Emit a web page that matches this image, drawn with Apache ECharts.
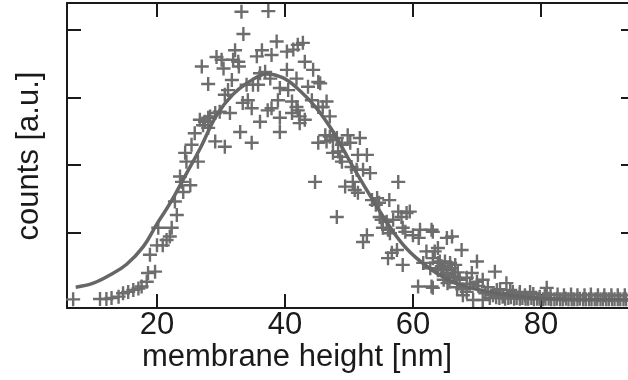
<!DOCTYPE html>
<html>
<head>
<meta charset="utf-8">
<script src="https://cdn.jsdelivr.net/npm/echarts@6/dist/echarts.min.js"></script>
<style>
  html, body { margin: 0; padding: 0; background: #fff; }
  #chart { width: 628px; height: 380px; }
</style>
</head>
<body>
<div id="chart"></div>
<script>
// Measured counts per membrane height, grouped by region of the distribution: [height nm, counts]
const risePoints = [
  [6.9,0.01],[11.1,0.015],[12.1,0.015],[12.9,0.03],[14.0,0.05],[14.7,0.10],[15.5,0.12],
  [16.3,0.15],[17.1,0.17],[17.6,0.20],[18.4,0.27],[18.6,0.40],[19.7,0.42],[18.9,0.67],
  [20.0,0.81],[20.9,0.81],[20.2,1.07],[22.3,1.07],[22.0,0.94],[21.5,0.89],[22.8,1.46],
  [23.1,1.26],[23.6,1.83],[23.9,1.75],[24.1,1.60],[25.2,1.70],[24.4,2.18],[24.6,2.05],
  [26.4,2.05],[25.4,2.30],[25.9,2.47],[28.0,2.55],[26.7,2.67],[27.5,2.64],[27.2,2.59],
  [28.3,2.72],[29.1,2.77],[29.8,2.79],[29.1,2.35],[30.6,2.27],[28.0,2.70],[31.4,2.77],
  [33.0,2.49],[34.8,2.33]
];
const peakPoints = [
  [33.2,4.27],[37.4,4.28],[33.5,3.94],[38.7,3.83],[42.0,3.78],[42.8,3.81],[32.2,3.70],
  [35.6,3.61],[36.4,3.70],[37.9,3.63],[40.3,3.68],[41.3,3.71],[29.3,3.60],[30.1,3.56],
  [31.9,3.56],[32.7,3.53],[27.0,3.46],[30.4,3.43],[32.8,3.46],[43.1,3.53],[44.4,3.41],
  [40.3,3.41],[36.1,3.36],[36.9,3.38],[37.7,3.28],[28.0,3.20],[31.7,3.26],[41.8,3.28],
  [43.6,3.16],[45.2,3.23],[45.5,3.21],[31.1,3.11],[30.6,3.04],[34.0,3.19],[35.0,3.19],
  [35.8,3.19],[39.2,3.14],[40.5,3.11],[38.9,2.96],[37.9,2.84],[37.3,2.81],[34.2,2.96],
  [33.4,2.92],[34.8,2.84],[41.1,2.94],[41.8,2.86],[42.0,2.81],[44.2,2.96],[45.2,2.86],
  [45.9,2.86],[46.5,2.94],[42.3,2.72],[43.1,2.67],[42.3,2.62],[41.1,2.77],[39.2,2.70],
  [36.1,2.64],[47.0,2.72],[39.2,2.49]
];
const fallPoints = [
  [46.3,2.44],[47.0,2.42],[47.5,2.37],[45.2,2.33],[46.5,2.35],[49.8,2.44],[51.7,2.40],
  [48.9,2.30],[50.2,2.33],[48.1,2.40],[47.5,2.18],[48.3,2.20],[48.6,2.12],[48.9,2.05],
  [51.4,2.15],[52.8,2.15],[50.4,1.97],[51.2,1.93],[52.2,1.93],[53.3,1.88],[44.7,1.75],
  [50.6,1.75],[49.4,1.68],[50.9,1.63],[51.4,1.59],[57.7,1.75],[53.6,1.48],[54.4,1.51],
  [54.7,1.44],[56.3,1.48],[54.2,1.41],[48.1,1.23],[54.8,1.23],[55.1,1.19],[55.9,1.16],
  [56.9,1.19],[57.7,1.31],[58.2,1.23],[59.0,1.29],[59.5,1.31],[55.3,1.07],[56.1,1.04],
  [56.4,0.99],[58.4,1.07],[58.8,1.01],[60.0,0.96],[61.1,1.04],[62.9,1.04],[60.9,0.92],
  [52.8,0.96],[52.2,0.86],[57.5,0.74],[56.7,0.70],[56.1,0.62],[58.4,0.52],[62.1,0.72],
  [63.4,0.72],[63.9,0.77],[65.3,0.92],[61.6,0.55],[62.7,0.47],[63.9,0.55],[64.7,0.47],
  [65.3,0.40],[60.8,0.20],[62.9,0.20],[63.1,1.01],[66.1,0.94],[67.6,0.74],[63.1,0.62],
  [64.2,0.57],[65.0,0.57],[65.8,0.55],[66.6,0.52],[70.0,0.57],[72.8,0.42],[63.1,0.18],
  [63.9,0.44],[65.3,0.37],[66.3,0.35],[67.3,0.30],[68.4,0.33],[69.2,0.40],[70.0,0.27],
  [70.9,0.30],[64.5,0.50],[65.4,0.44],[66.1,0.47],[67.0,0.41],[64.8,0.30],[65.7,0.27],
  [66.6,0.33],[65.4,0.25],[66.9,0.19],[67.7,0.16],[68.4,0.12],[68.9,0.24],[70.2,0.21],
  [71.7,0.19],[73.6,0.16],[75.6,0.12],[76.7,0.09],[78.8,0.09],[80.6,0.06],[71.3,0.10],
  [72.5,0.07],[74.1,0.06],[67.8,0.07],[69.4,0.00],[70.9,0.00],[72.0,0.03],[73.1,0.15],
  [74.6,0.25],[75.2,0.15],[76.7,0.12],[77.5,0.07],[78.3,0.12],[79.8,0.05],[80.9,0.18]
];
const tailPoints = [
  [73.0,0.04],[73.5,0.03],[74.0,0.05],[74.4,0.02],[74.9,0.03],[75.3,0.04],[75.8,0.02],
  [76.2,0.03],[76.7,0.02],[77.1,0.03],[77.6,0.02],[78.0,0.02],[78.5,0.03],[78.9,0.01],
  [79.4,0.02],[79.8,0.02],[80.3,0.01],[80.7,0.02],[81.2,0.02],[81.6,0.01],[82.1,0.01],
  [82.5,0.02],[83.0,0.01],[83.4,0.01],[83.9,0.02],[84.3,0.01],[84.8,0.01],[85.2,0.01],
  [85.7,0.01],[86.1,0.02],[86.6,0.01],[87.0,0.01],[87.5,0.01],[87.9,0.01],[88.4,0.01],
  [88.8,0.01],[89.3,0.01],[89.7,0.01],[90.2,0.01],[90.6,0.01],[91.1,0.01],[91.5,0.01],
  [92.0,0.01],[92.4,0.01],[92.9,0.01],[93.3,0.01],[93.8,0.01],
  [81.5,0.08],[82.6,0.08],[83.6,0.07],[84.7,0.08],[85.7,0.07],[86.8,0.07],[87.8,0.08],
  [88.9,0.07],[89.9,0.07],[91.0,0.07],[92.0,0.07],[93.1,0.07]
];

// Fitted distribution curve: [height nm, counts]
const fitCurve = [
  [7.3,0.19],[10.05,0.25],[12.66,0.37],[15.27,0.53],[17.86,0.79],[19.95,1.12],[22.03,1.43],
  [24.64,1.88],[26.72,2.24],[29.33,2.74],[31.92,3.05],[34.53,3.24],[37.14,3.35],[39.73,3.29],
  [42.34,3.10],[44.95,2.84],[47.55,2.49],[49.11,2.23],[51.2,1.88],[53.8,1.47],[56.41,1.08],
  [59.02,0.76],[62.14,0.50],[65.27,0.31],[67.86,0.21],[73.08,0.10],[78.28,0.035],
  [83.0,0.012],[88.0,0.004],[94.0,0.0]
];

const xTicks = [20, 40, 60, 80];
const yTicks = [1, 2, 3, 4];
const xTitle = 'membrane height [nm]';
const yTitle = 'counts [a.u.]';

const frameColor = '#1a1a1a';
const markColor = '#6d6d6d';
const font = 'Liberation Sans, Arial, Helvetica, sans-serif';
const plusPath = 'path://M-1.2,-7L1.2,-7L1.2,-1.2L7,-1.2L7,1.2L1.2,1.2L1.2,7L-1.2,7L-1.2,1.2L-7,1.2L-7,-1.2L-1.2,-1.2Z';

const xRange = { min: 5.94, max: 93.6 };
const yRange = { min: -0.1185, max: 4.4 };

function tickStyle(values) {
  return { show: true, inside: true, length: 14, customValues: values,
           lineStyle: { color: frameColor, width: 2 } };
}
function frameAxis(extra) {
  return Object.assign({
    type: 'value',
    axisLine: { show: true, onZero: false, lineStyle: { color: frameColor, width: 2 } },
    axisLabel: { show: false },
    splitLine: { show: false }
  }, extra);
}

const chart = echarts.init(document.getElementById('chart'), null, { renderer: 'canvas' });
chart.setOption({
  animation: false,
  backgroundColor: '#fff',
  grid: { left: 67, top: 3, right: 0, bottom: 72 },
  xAxis: [
    frameAxis({
      position: 'bottom', min: xRange.min, max: xRange.max,
      axisTick: tickStyle(xTicks),
      axisLabel: { show: true, customValues: xTicks, color: '#1a1a1a', fontSize: 31,
                   fontFamily: font, margin: 2 }
    }),
    frameAxis({ position: 'top', min: xRange.min, max: xRange.max, axisTick: tickStyle(xTicks) })
  ],
  yAxis: [
    frameAxis({ position: 'left', min: yRange.min, max: yRange.max, axisTick: tickStyle(yTicks) }),
    // right frame edge sits just past the canvas, only its ticks reach into view
    frameAxis({ position: 'right', offset: 7, min: yRange.min, max: yRange.max, axisTick: tickStyle(yTicks) })
  ],
  graphic: [
    { type: 'text', x: 297, y: 357,
      style: { text: xTitle, fill: '#1a1a1a', font: '31px ' + font, align: 'center', verticalAlign: 'middle' } },
    { type: 'text', x: 29, y: 156, rotation: Math.PI / 2,
      style: { text: yTitle, fill: '#1a1a1a', font: '31px ' + font, align: 'center', verticalAlign: 'middle' } }
  ],
  series: [
    { type: 'scatter', data: risePoints.concat(peakPoints, fallPoints, tailPoints),
      symbol: plusPath, symbolSize: 14, clip: true,
      itemStyle: { color: markColor, opacity: 1 } },
    { type: 'line', data: fitCurve, smooth: 0.4, showSymbol: false, clip: true,
      lineStyle: { color: '#666666', width: 3.5 }, z: 3 }
  ]
});
</script>
</body>
</html>
